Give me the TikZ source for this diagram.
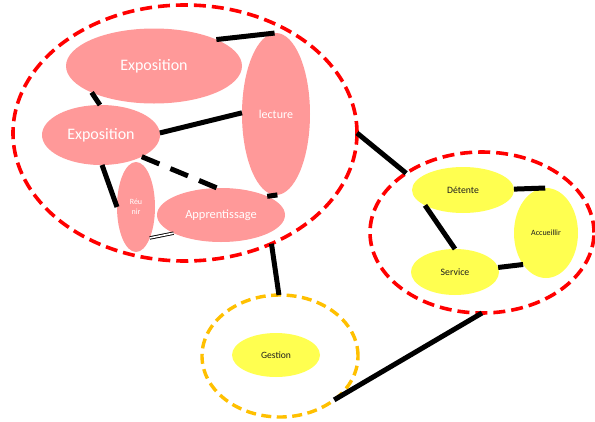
\documentclass[tikz,border=0pt]{standalone}
\usepackage{fontspec}
\setmainfont{Carlito}
\usetikzlibrary{shapes.geometric}

\definecolor{petal}{RGB}{255,153,153}
\definecolor{sun}{RGB}{255,255,80}
\definecolor{ring}{RGB}{255,0,0}
\definecolor{amber}{RGB}{255,192,0}
\definecolor{ink}{RGB}{30,30,30}

\tikzset{
  pinkblob/.style={ellipse, fill=petal, text=white, inner sep=0pt, outer sep=0pt},
  yellowblob/.style={ellipse, fill=sun, text=ink, inner sep=0pt, outer sep=0pt},
  redgroup/.style={ellipse, draw=ring, line width=3.6pt, dash pattern=on 12pt off 6pt, inner sep=0pt, outer sep=0pt},
  ambergroup/.style={ellipse, draw=amber, line width=3.4pt, dash pattern=on 10pt off 5.5pt, inner sep=0pt, outer sep=0pt},
  link/.style={draw=black, line width=5pt},
  dashlink/.style={draw=black, line width=5pt, dash pattern=on 19pt off 12pt},
  twinlink/.style={draw=black, line width=0.9pt, double=white, double distance=1.6pt},
}

\begin{document}
\begin{tikzpicture}[x=1pt,y=-1pt]
  \useasboundingbox[fill=white] (0,0) rectangle (595,421);

  % group outlines
  \node[redgroup, minimum width=344, minimum height=256] (learn) at (185,133) {};
  \node[redgroup, minimum width=224, minimum height=161] (rest) at (482,232.5) {};
  \node[ambergroup, minimum width=156, minimum height=122] (admin) at (280,356) {};

  % activities of the left group
  \node[pinkblob, minimum width=176, minimum height=75, font=\fontsize{16}{19}\selectfont] (expA) at (154,66) {Exposition};
  \node[pinkblob, minimum width=118, minimum height=60, font=\fontsize{16}{19}\selectfont] (expB) at (101,135) {Exposition};
  \node[pinkblob, minimum width=68, minimum height=162, font=\fontsize{12}{14}\selectfont] (lect) at (276,114) {lecture};
  \node[pinkblob, minimum width=38, minimum height=90, align=center, font=\fontsize{8}{10}\selectfont] (reun) at (136,207) {Réu\\nir};
  \node[pinkblob, minimum width=128, minimum height=54, font=\fontsize{12.4}{15}\selectfont] (appr) at (221,215) {Apprentissage};

  % activities of the right group
  \node[yellowblob, minimum width=102, minimum height=46, font=\fontsize{9.7}{12}\selectfont] (det) at (463,190) {Détente};
  \node[yellowblob, minimum width=64, minimum height=90, font=\fontsize{8}{10}\selectfont] (acc) at (546,233) {Accueillir};
  \node[yellowblob, minimum width=88, minimum height=46, font=\fontsize{9.8}{12}\selectfont] (serv) at (455,272) {Service};

  % activity of the bottom group
  \node[yellowblob, minimum width=88, minimum height=44, font=\fontsize{9.6}{12}\selectfont] (gest) at (276,355) {Gestion};

  % links inside the left group
  \draw[link] (expA.23.6) -- (lect.91);
  \draw[link] (expA.203) -- (expB.92);
  \draw[link] (expB.2) -- (lect.178);
  \draw[link] (expB.272) -- (reun.180);
  \draw[dashlink] (expB.332) -- (appr.98);
  \draw[link] (lect.271) -- (appr.22.4);
  \draw[twinlink] (reun.294) -- (appr.201.4);

  % links inside the right group
  \draw[link] (det.1) -- (acc.91);
  \draw[link] (det.202.6) -- (serv.90);
  \draw[link] (serv.6.6) -- (acc.234.3);

  % links between the groups
  \draw[link] (learn.0) -- (rest.142.6);
  \draw[link] (learn.308.3) -- (admin.91);
  \draw[link] (rest.270) -- (admin.321.6);
\end{tikzpicture}
\end{document}
